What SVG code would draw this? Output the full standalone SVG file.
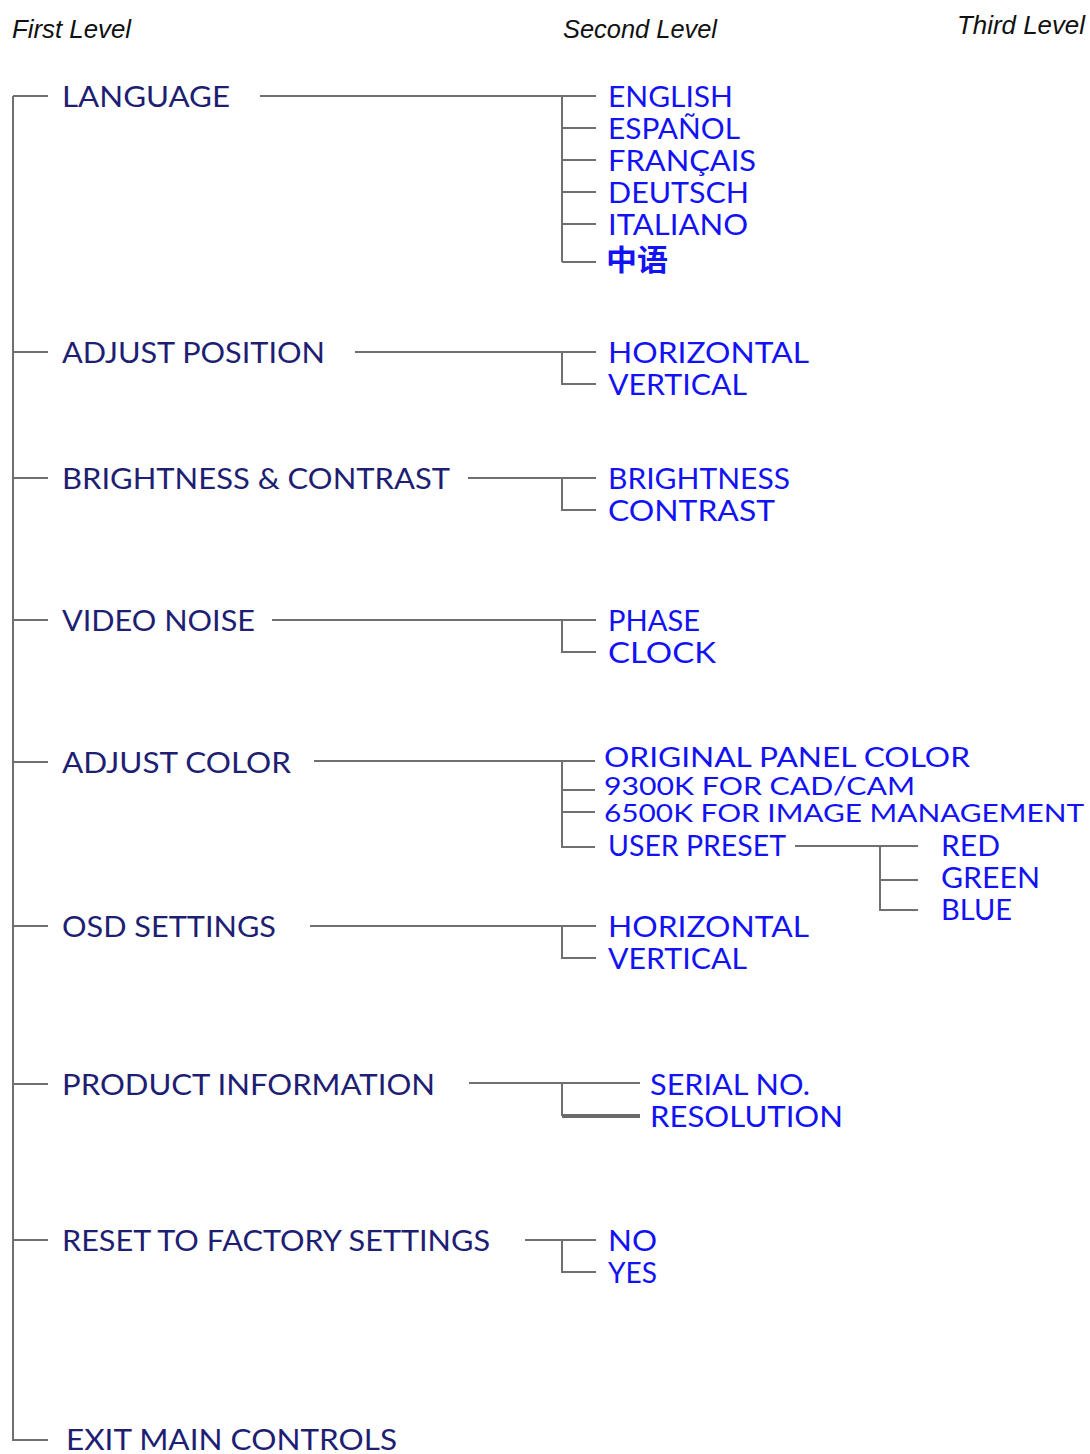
<svg xmlns="http://www.w3.org/2000/svg" width="1090" height="1454" viewBox="0 0 1090 1454">
<style>
.hdr{font-family:"Liberation Sans",Arial,sans-serif;font-style:italic;font-size:26px;fill:#111}
.l1{font-family:Lato,"Open Sans","Liberation Sans",sans-serif;font-size:29px;fill:#1e1e72}
.l2{font-family:Lato,"Open Sans","Liberation Sans","Noto Sans CJK SC",sans-serif;font-size:29px;fill:#1212f5}
.tight{font-size:25px}
.ln{stroke:#707070;stroke-width:2;fill:none}
</style>
<rect width="1090" height="1454" fill="#fff"/>
<g id="headers">
<text class="hdr" x="12" y="38" textLength="119" lengthAdjust="spacingAndGlyphs">First Level</text>
<text class="hdr" x="563" y="38" textLength="154" lengthAdjust="spacingAndGlyphs">Second Level</text>
<text class="hdr" x="957" y="34" textLength="128" lengthAdjust="spacingAndGlyphs">Third Level</text>
</g>
<g id="connectors">
<path class="ln" d="M13 96V1440H48M13 96H48M13 352H48M13 478H48M13 620H48M13 762H48M13 926H48M13 1084H48M13 1240H48"/>
<path class="ln" d="M260 96H596M562 96V262M562 128H596M562 160H596M562 192H596M562 224H596M562 262H596"/>
<path class="ln" d="M355 352H596M562 352V384H596"/>
<path class="ln" d="M468 478H596M562 478V510H596"/>
<path class="ln" d="M272 620H596M562 620V652H596"/>
<path class="ln" d="M314 761H595M562 761V847H595M562 790H595M562 812H595"/>
<path class="ln" d="M795 846H918M880 846V910H918M880 880H918"/>
<path class="ln" d="M310 926H596M562 926V958H596"/>
<path class="ln" d="M469 1083H640M562 1083V1116"/>
<path d="M562 1116H640" stroke="#6a6a6a" stroke-width="4"/>
<path class="ln" d="M525 1240H596M562 1240V1272H596"/>
</g>
<g id="n-language"><text class="l1" x="62" y="107" textLength="168" lengthAdjust="spacingAndGlyphs">LANGUAGE</text></g>
<g id="n-english"><text class="l2" x="608" y="107" textLength="125" lengthAdjust="spacingAndGlyphs">ENGLISH</text></g>
<g id="n-espanol"><text class="l2" x="608" y="139" textLength="132" lengthAdjust="spacingAndGlyphs">ESPAÑOL</text></g>
<g id="n-francais"><text class="l2" x="608" y="171" textLength="148" lengthAdjust="spacingAndGlyphs">FRANÇAIS</text></g>
<g id="n-deutsch"><text class="l2" x="608" y="203" textLength="141" lengthAdjust="spacingAndGlyphs">DEUTSCH</text></g>
<g id="n-italiano"><text class="l2" x="608" y="235" textLength="140" lengthAdjust="spacingAndGlyphs">ITALIANO</text></g>
<g id="n-chinese"><text class="l2" x="606" y="271" font-weight="bold" textLength="62" lengthAdjust="spacingAndGlyphs" style="font-family:'Noto Sans CJK SC',sans-serif;font-size:29px">中语</text></g>
<g id="n-adjpos"><text class="l1" x="62" y="363" textLength="263" lengthAdjust="spacingAndGlyphs">ADJUST POSITION</text></g>
<g id="n-horiz1"><text class="l2" x="608" y="363" textLength="201" lengthAdjust="spacingAndGlyphs">HORIZONTAL</text></g>
<g id="n-vert1"><text class="l2" x="608" y="395" textLength="139" lengthAdjust="spacingAndGlyphs">VERTICAL</text></g>
<g id="n-bc"><text class="l1" x="62" y="489" textLength="388" lengthAdjust="spacingAndGlyphs">BRIGHTNESS &amp; CONTRAST</text></g>
<g id="n-bright"><text class="l2" x="608" y="489" textLength="182" lengthAdjust="spacingAndGlyphs">BRIGHTNESS</text></g>
<g id="n-contrast"><text class="l2" x="608" y="521" textLength="167" lengthAdjust="spacingAndGlyphs">CONTRAST</text></g>
<g id="n-vnoise"><text class="l1" x="62" y="631" textLength="193" lengthAdjust="spacingAndGlyphs">VIDEO NOISE</text></g>
<g id="n-phase"><text class="l2" x="608" y="631" textLength="92" lengthAdjust="spacingAndGlyphs">PHASE</text></g>
<g id="n-clock"><text class="l2" x="608" y="663" textLength="108" lengthAdjust="spacingAndGlyphs">CLOCK</text></g>
<g id="n-adjcolor"><text class="l1" x="62" y="773" textLength="229" lengthAdjust="spacingAndGlyphs">ADJUST COLOR</text></g>
<g id="n-orig"><text class="l2" x="604" y="767" textLength="366" lengthAdjust="spacingAndGlyphs" style="font-size:27px">ORIGINAL PANEL COLOR</text></g>
<g id="n-9300"><text class="l2 tight" x="604" y="795" textLength="311" lengthAdjust="spacingAndGlyphs">9300K FOR CAD/CAM</text></g>
<g id="n-6500"><text class="l2 tight" x="604" y="822" textLength="480" lengthAdjust="spacingAndGlyphs">6500K FOR IMAGE MANAGEMENT</text></g>
<g id="n-user"><text class="l2" x="608" y="856" textLength="178" lengthAdjust="spacingAndGlyphs">USER PRESET</text></g>
<g id="n-red"><text class="l2" x="941" y="856" textLength="59" lengthAdjust="spacingAndGlyphs">RED</text></g>
<g id="n-green"><text class="l2" x="941" y="888" textLength="99" lengthAdjust="spacingAndGlyphs">GREEN</text></g>
<g id="n-blue"><text class="l2" x="941" y="920" textLength="71" lengthAdjust="spacingAndGlyphs">BLUE</text></g>
<g id="n-osd"><text class="l1" x="62" y="937" textLength="214" lengthAdjust="spacingAndGlyphs">OSD SETTINGS</text></g>
<g id="n-horiz2"><text class="l2" x="608" y="937" textLength="201" lengthAdjust="spacingAndGlyphs">HORIZONTAL</text></g>
<g id="n-vert2"><text class="l2" x="608" y="969" textLength="139" lengthAdjust="spacingAndGlyphs">VERTICAL</text></g>
<g id="n-prodinfo"><text class="l1" x="62" y="1095" textLength="373" lengthAdjust="spacingAndGlyphs">PRODUCT INFORMATION</text></g>
<g id="n-serial"><text class="l2" x="650" y="1095" textLength="160" lengthAdjust="spacingAndGlyphs">SERIAL NO.</text></g>
<g id="n-resol"><text class="l2" x="650" y="1127" textLength="193" lengthAdjust="spacingAndGlyphs">RESOLUTION</text></g>
<g id="n-reset"><text class="l1" x="62" y="1251" textLength="428" lengthAdjust="spacingAndGlyphs">RESET TO FACTORY SETTINGS</text></g>
<g id="n-no"><text class="l2" x="608" y="1251" textLength="49" lengthAdjust="spacingAndGlyphs">NO</text></g>
<g id="n-yes"><text class="l2" x="608" y="1283" textLength="49" lengthAdjust="spacingAndGlyphs">YES</text></g>
<g id="n-exit"><text class="l1" x="66" y="1450" textLength="331" lengthAdjust="spacingAndGlyphs" style="font-size:28px">EXIT MAIN CONTROLS</text></g>
</svg>
